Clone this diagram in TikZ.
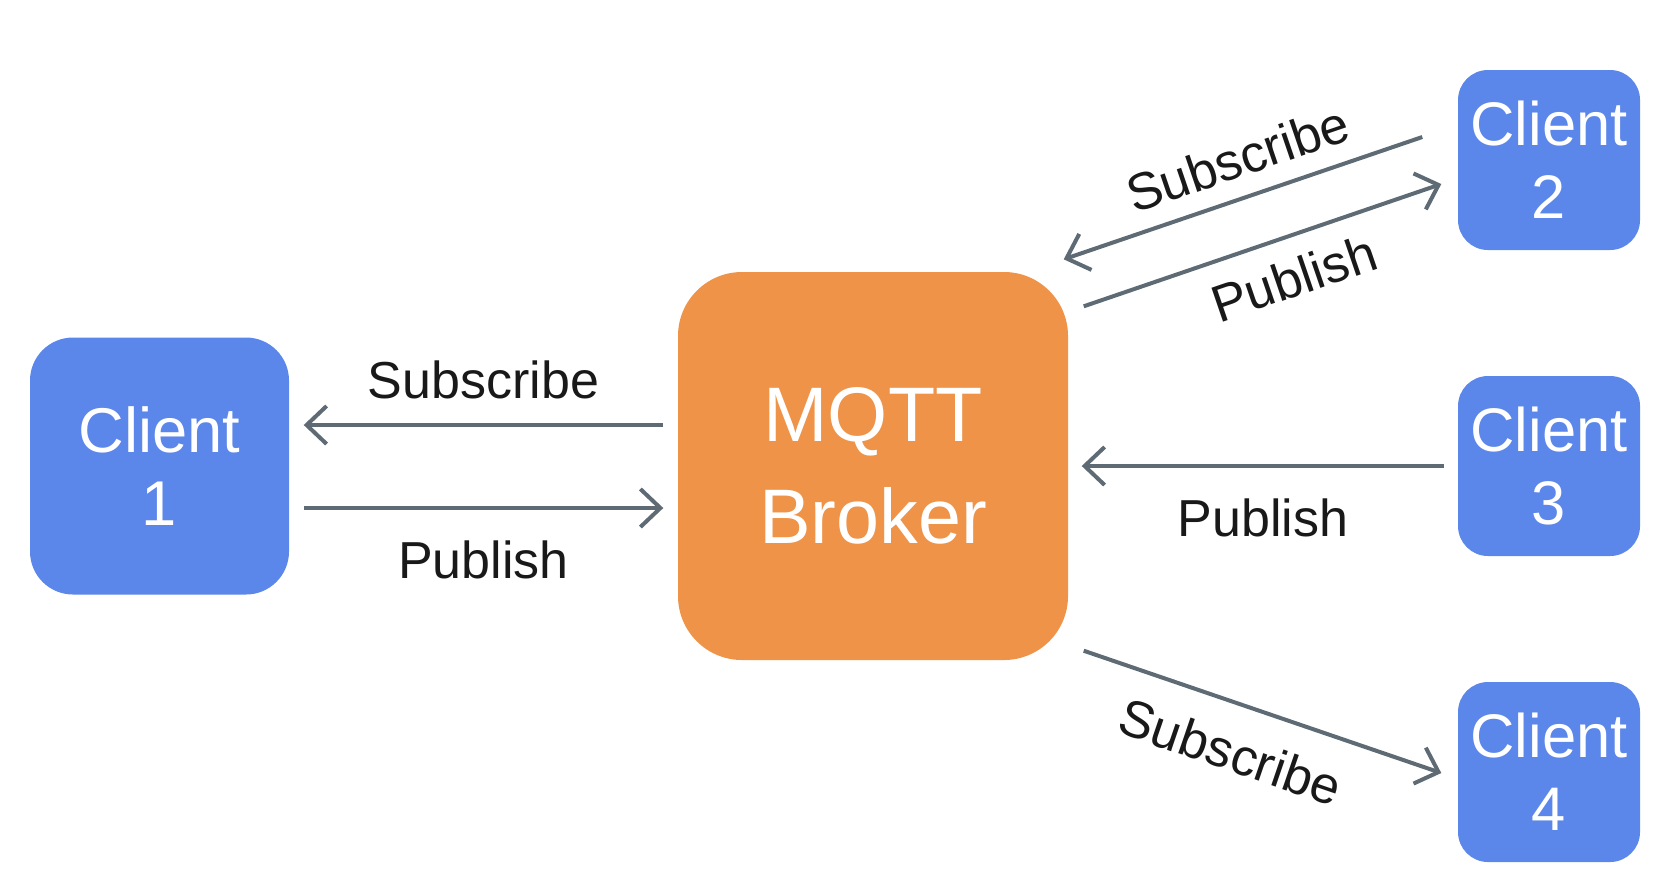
\documentclass[tikz,border=0pt]{standalone}
\usepackage{fontspec}
\setmainfont{Liberation Sans}
\usetikzlibrary{arrows.meta}
\definecolor{clientblue}{HTML}{5B86EA}
\definecolor{brokerorange}{HTML}{EE9347}
\definecolor{arrowgray}{HTML}{5E6B75}
\tikzset{
  client/.style={fill=clientblue, rounded corners=0.3cm, minimum width=1.82cm, minimum height=1.8cm,
    inner sep=0, text=white, align=center, font=\fontsize{17.5}{20.7}\selectfont},
  brokerbox/.style={fill=brokerorange, rounded corners=0.64cm, minimum width=3.9cm, minimum height=3.88cm,
    inner sep=0, text=white, align=center, font=\fontsize{22}{29}\selectfont},
  flow/.style={draw=arrowgray, line width=0.04cm, -{Straight Barb[length=0.2cm,width=0.38cm]}},
  lbl/.style={font=\fontsize{14.8}{17}\selectfont, text=black!90, inner sep=0}
}
\begin{document}
\begin{tikzpicture}
\useasboundingbox (0,0) rectangle (16.78,-8.94);
\node[brokerbox] (broker) at (8.73,-4.66){MQTT\\Broker};
\node[client, minimum width=2.59cm, minimum height=2.57cm, rounded corners=0.43cm,
  font=\fontsize{18}{20.7}\selectfont] (c1) at (1.595,-4.66){Client\\1};
\node[client] (c2) at (15.49,-1.60){Client\\2};
\node[client] (c3) at (15.49,-4.66){Client\\3};
\node[client] (c4) at (15.49,-7.72){Client\\4};
% client 1
\draw[flow, shorten <=0.14cm, shorten >=0.14cm] ([yshift=0.41cm]broker.west) -- node[lbl, above=0.24cm]{Subscribe} ([yshift=0.41cm]c1.east);
\draw[flow, shorten <=0.14cm, shorten >=0.14cm] ([yshift=-0.42cm]c1.east) -- node[lbl, below=0.31cm]{Publish} ([yshift=-0.42cm]broker.west);
% client 2
\draw[flow] ([shift={(-0.35,0.23)}]c2.west) -- node[lbl, sloped, above=0.18cm, pos=0.48]{Subscribe} ([shift={(-0.05,0.12)}]broker.north east);
\draw[flow] ([shift={(0.15,-0.35)}]broker.north east) -- node[lbl, sloped, below=0.2cm, pos=0.55]{Publish} ([shift={(-0.16,-0.24)}]c2.west);
% client 3
\draw[flow, shorten <=0.13cm, shorten >=0.13cm] (c3.west) -- node[lbl, below=0.31cm]{Publish} (broker.east);
% client 4
\draw[flow] ([shift={(0.15,0.10)}]broker.south east) -- node[lbl, sloped, below=0.27cm, pos=0.454]{Subscribe} ([shift={(-0.16,-0.01)}]c4.west);
\end{tikzpicture}
\end{document}
